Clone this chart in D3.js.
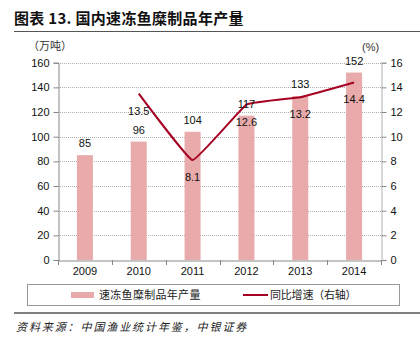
<!DOCTYPE html>
<html><head><meta charset="utf-8">
<script src="https://cdn.jsdelivr.net/npm/d3@7"></script>
<style>body{margin:0;background:#fff;}svg{display:block;}</style>
</head><body>
<svg id="c" width="420" height="347"></svg>
<script>
const years = ["2009","2010","2011","2012","2013","2014"];
const production = [85, 96, 104, 117, 133, 152];
const growthYears = ["2010","2011","2012","2013","2014"];
const growth = [13.5, 8.1, 12.6, 13.2, 14.4];
const leftTicks = [0,20,40,60,80,100,120,140,160];
const rightTicks = [0,2,4,6,8,10,12,14,16];
const titleText = "图表 13. 国内速冻鱼糜制品年产量";
const seriesNames = ["速冻鱼糜制品年产量", "同比增速（右轴）"];
const sourceText = "资料来源：中国渔业统计年鉴，中银证券";

const svg = d3.select("#c");
const font = "'Liberation Sans', Arial, sans-serif";
const cjk = "'Noto Sans CJK SC', sans-serif";
const L = 58, R = 381, T = 62.7, B = 260;

const x = d3.scaleBand().domain(years).range([L, R]).paddingInner(0).paddingOuter(0);
const yL = d3.scaleLinear().domain([0,160]).range([B, T]);
const yR = d3.scaleLinear().domain([0,16]).range([B, T]);

// title
svg.append("text").attr("x",14).attr("y",24).attr("font-family",cjk).attr("font-weight","bold")
  .attr("font-size",15).attr("letter-spacing",0.3).attr("fill","#111").text(titleText);
svg.append("line").attr("x1",14).attr("x2",420).attr("y1",31.5).attr("y2",31.5).attr("stroke","#555").attr("stroke-width",1.2);

// grid
svg.append("g").selectAll("line").data(leftTicks.filter(d=>d>0)).join("line")
  .attr("x1",L).attr("x2",R).attr("y1",d=>Math.round(yL(d))+0.5).attr("y2",d=>Math.round(yL(d))+0.5)
  .attr("stroke","#999").attr("stroke-width",0.8).attr("stroke-dasharray","1,1");

// bars
const bw = 16;
svg.append("g").selectAll("rect").data(production).join("rect")
  .attr("x",(d,i)=>x(years[i])+x.bandwidth()/2-bw/2).attr("width",bw)
  .attr("y",d=>yL(d)).attr("height",d=>B-yL(d)).attr("fill","#E8AAAA");

// axes
const axL = svg.append("g").attr("transform",`translate(${L+0.5},0)`)
  .call(d3.axisLeft(yL).tickValues(leftTicks).tickSize(5).tickPadding(4));
const axR = svg.append("g").attr("transform",`translate(${R+0.5},0)`)
  .call(d3.axisRight(yR).tickValues(rightTicks).tickSize(5).tickPadding(4));
const axB = svg.append("g").attr("transform",`translate(0,${B+0.5})`)
  .call(d3.axisBottom(x).tickSize(0).tickPadding(7));
[axL,axR,axB].forEach(g=>{
  g.selectAll("text").attr("font-family",font).attr("font-size",11).attr("fill","#111");
  g.selectAll("line,path").attr("stroke","#888");
});
axR.select(".domain").attr("stroke","#ccc").attr("stroke-width",1.5);
// category separator ticks
svg.append("g").selectAll("line").data(d3.range(years.length+1)).join("line")
  .attr("x1",i=>Math.round(L+i*x.step())+0.5).attr("x2",i=>Math.round(L+i*x.step())+0.5)
  .attr("y1",B).attr("y2",B+5).attr("stroke","#888");

// line
const line = d3.line().x((d,i)=>x(growthYears[i])+x.bandwidth()/2).y(d=>yR(d)).curve(d3.curveCardinal.tension(0.75));
svg.append("path").datum(growth).attr("d",line).attr("fill","none").attr("stroke","#A50021").attr("stroke-width",2);

// labels
svg.append("g").selectAll("text").data(production).join("text")
  .attr("x",(d,i)=>x(years[i])+x.bandwidth()/2).attr("y",d=>yL(d)-8)
  .attr("text-anchor","middle").attr("font-family",font).attr("font-size",11).attr("fill","#111").text(d=>d);
svg.append("g").selectAll("text").data(growth).join("text")
  .attr("x",(d,i)=>x(growthYears[i])+x.bandwidth()/2).attr("y",d=>yR(d)+21)
  .attr("text-anchor","middle").attr("font-family",font).attr("font-size",11).attr("fill","#111").text(d=>d.toFixed(1));

// units
svg.append("text").attr("x",28).attr("y",50).attr("font-family",cjk).attr("font-size",11).attr("fill","#333").text("（万吨）");
svg.append("text").attr("x",362).attr("y",51).attr("font-family",font).attr("font-size",11).attr("fill","#333").text("(%)");

// legend
svg.append("rect").attr("x",27.5).attr("y",284.5).attr("width",372).attr("height",21).attr("fill","#fff").attr("stroke","#999");
svg.append("rect").attr("x",71).attr("y",292).attr("width",23).attr("height",6).attr("fill","#E8AAAA");
svg.append("text").attr("x",99).attr("y",299).attr("font-family",cjk).attr("font-size",11).attr("fill","#222").text(seriesNames[0]).attr("letter-spacing",0.3);
svg.append("line").attr("x1",243).attr("x2",268).attr("y1",295).attr("y2",295).attr("stroke","#A50021").attr("stroke-width",2);
svg.append("text").attr("x",270).attr("y",299).attr("font-family",cjk).attr("font-size",11).attr("fill","#222").text(seriesNames[1]).attr("letter-spacing",-0.2);

// source
svg.append("line").attr("x1",14).attr("x2",420).attr("y1",313).attr("y2",313).attr("stroke","#555").attr("stroke-width",1.5);
svg.append("text").attr("x",16).attr("y",331).attr("font-family",cjk).attr("font-size",11).attr("font-style","italic").attr("fill","#222").text(sourceText).attr("letter-spacing",1.9);
</script>
</body></html>
